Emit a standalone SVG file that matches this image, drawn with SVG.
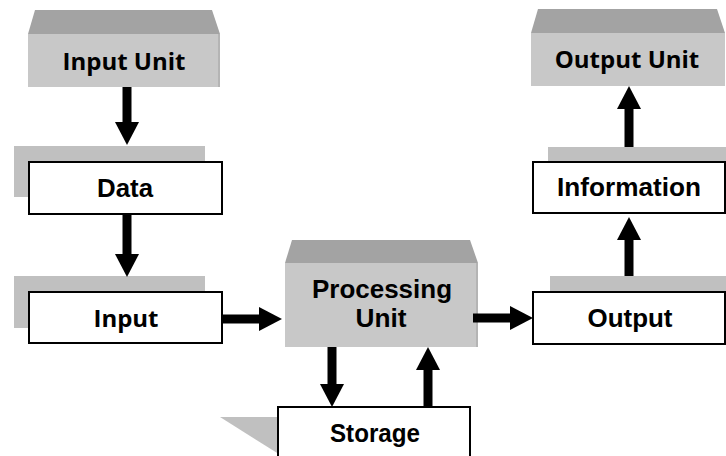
<svg xmlns="http://www.w3.org/2000/svg" width="726" height="456" viewBox="0 0 726 456">
<style>
.top{fill:#a3a3a3}
.front{fill:#c8c8c8}
.edge{stroke:#b4b4b4;stroke-width:2}
.shadow{fill:#c0c0c0}
.box{fill:#fff;stroke:#000;stroke-width:2}
.t{font-family:"Liberation Sans",Arial,sans-serif;font-weight:bold;font-size:25px;fill:#000;text-anchor:middle}
.o{font-family:"Open Sans","DejaVu Sans",sans-serif;font-weight:bold;font-size:24px;fill:#000;text-anchor:middle}
.c{stroke:#000;stroke-width:9;fill:none}
</style>
<defs>
<marker id="ah" markerUnits="userSpaceOnUse" markerWidth="24" markerHeight="24" refX="5" refY="12" orient="auto">
<path d="M0,0 L23,12 L0,24 z" fill="#000"/>
</marker>
</defs>
<rect width="726" height="456" fill="#fff"/>
<g id="input-unit">
<polygon class="top" points="35,10 212,10 220,34 28,34"/>
<rect class="front" x="28" y="34" width="192" height="53"/>
<line class="edge" x1="219" y1="34" x2="219" y2="87"/>
<text class="o" x="124" y="70">Input Unit</text>
</g>
<g id="data">
<rect class="shadow" x="14" y="146" width="191" height="51"/>
<rect class="box" x="29" y="162" width="193" height="52"/>
<text class="t" x="125" y="197" textLength="56" lengthAdjust="spacingAndGlyphs">Data</text>
</g>
<g id="input">
<rect class="shadow" x="14" y="276" width="191" height="52"/>
<rect class="box" x="29" y="292" width="193" height="51"/>
<text class="o" x="126" y="327">Input</text>
</g>
<g id="processing-unit">
<polygon class="top" points="292,240 470,240 478,263 285,263"/>
<rect class="front" x="285" y="263" width="193" height="84"/>
<line class="edge" x1="477" y1="263" x2="477" y2="347"/>
<text class="t" x="382" y="298" textLength="140" lengthAdjust="spacingAndGlyphs">Processing</text>
<text class="t" x="381" y="327" textLength="51" lengthAdjust="spacingAndGlyphs">Unit</text>
</g>
<g id="storage">
<polygon class="shadow" points="220,417 290,417 290,456 282,456"/>
<rect class="box" x="278" y="407" width="192" height="60"/>
<text class="t" x="375" y="442" textLength="90" lengthAdjust="spacingAndGlyphs">Storage</text>
</g>
<g id="output">
<rect class="shadow" x="550" y="276" width="180" height="20"/>
<rect class="box" x="533" y="292" width="192" height="52"/>
<text class="t" x="630" y="327" textLength="85" lengthAdjust="spacingAndGlyphs">Output</text>
</g>
<g id="information">
<rect class="shadow" x="548" y="147" width="180" height="20"/>
<rect class="box" x="533" y="162" width="192" height="51"/>
<text class="t" x="629" y="196" textLength="144" lengthAdjust="spacingAndGlyphs">Information</text>
</g>
<g id="output-unit">
<polygon class="top" points="538,9 717,9 725,33 531,33"/>
<rect class="front" x="531" y="33" width="194" height="53"/>
<text class="o" x="627" y="68">Output Unit</text>
</g>
<g id="connectors">
<line class="c" x1="127" y1="87" x2="127" y2="127" marker-end="url(#ah)"/>
<line class="c" x1="127" y1="214" x2="127" y2="259" marker-end="url(#ah)"/>
<line class="c" x1="222" y1="319" x2="264" y2="319" marker-end="url(#ah)"/>
<line class="c" x1="473" y1="318" x2="515" y2="318" marker-end="url(#ah)"/>
<line class="c" x1="629" y1="276" x2="629" y2="235" marker-end="url(#ah)"/>
<line class="c" x1="629" y1="147" x2="629" y2="104" marker-end="url(#ah)"/>
<line class="c" x1="332" y1="347" x2="332" y2="389" marker-end="url(#ah)"/>
<line class="c" x1="428" y1="407" x2="428" y2="365" marker-end="url(#ah)"/>
</g>
</svg>
